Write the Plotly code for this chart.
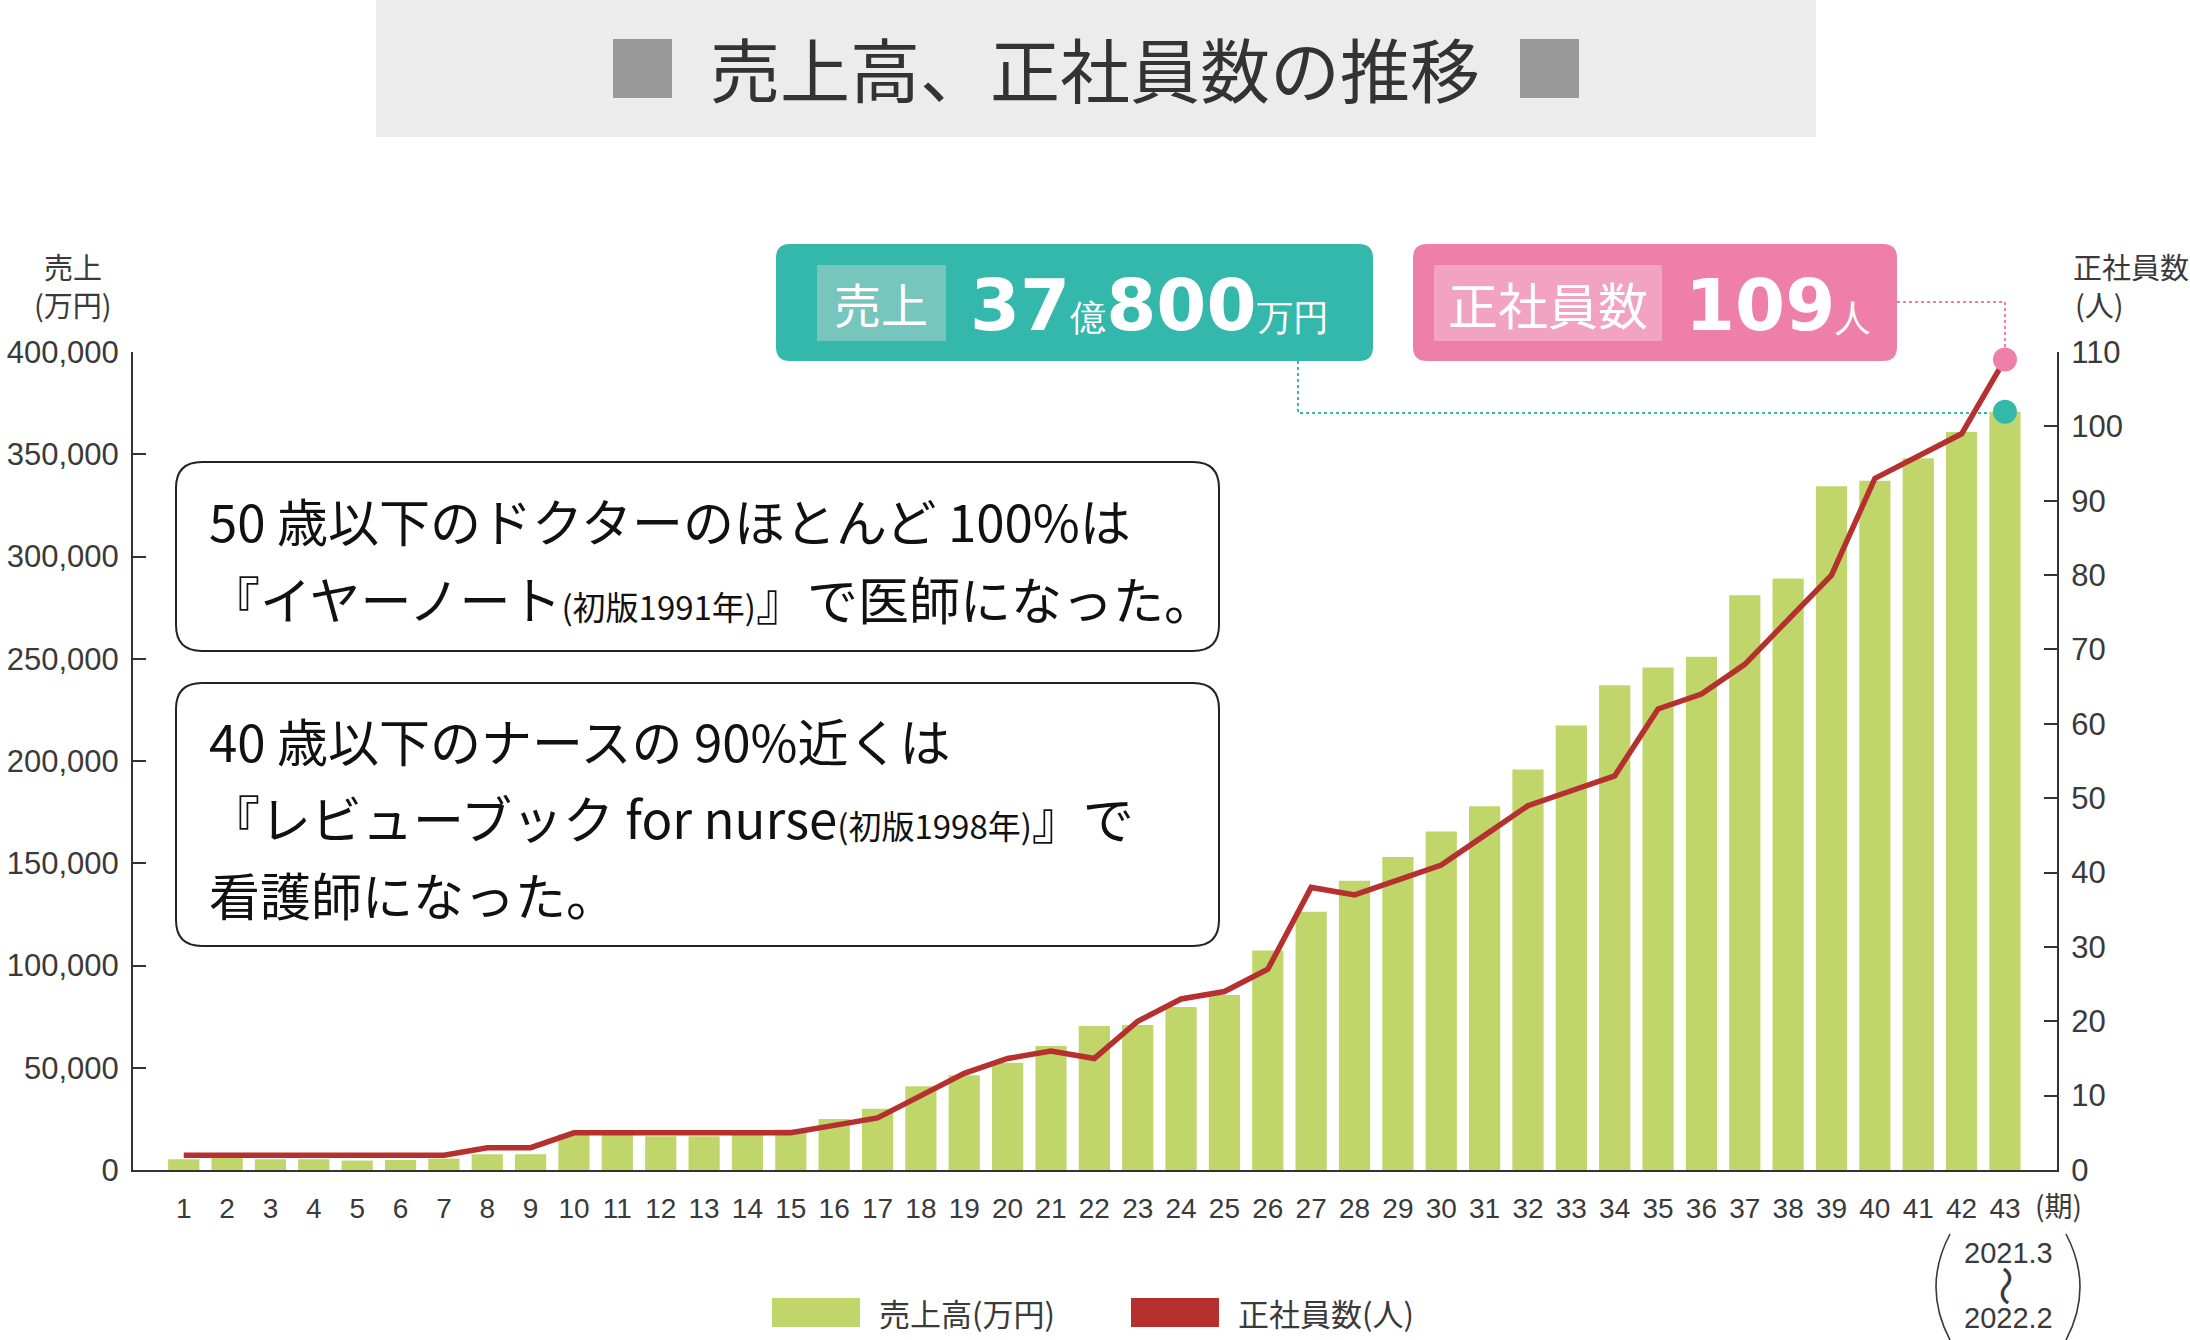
import plotly.graph_objects as go

# ---------------- data ----------------
periods = [str(i) for i in range(1, 44)]
sales = [5250, 6070, 5250, 5250, 4600, 4900, 5600, 7700, 7700, 17500,
         17200, 16500, 16500, 17200, 19800, 24900, 30000, 40900, 46300, 52500,
         60600, 70400, 70900, 79700, 85600, 107300, 126300, 141500, 153000, 165500,
         177900, 195800, 217400, 237000, 245700, 251000, 281000, 289300, 334300, 337000,
         348100, 360900, 370800]
staff = [2, 2, 2, 2, 2, 2, 2, 3, 3, 5,
         5, 5, 5, 5, 5, 6, 7, 10, 13, 15,
         16, 15, 20, 23, 24, 27, 38, 37, 39, 41,
         45, 49, 51, 53, 62, 64, 68, 74, 80, 93,
         96, 99, 109]
sales_ticks = [0, 50000, 100000, 150000, 200000, 250000, 300000, 350000, 400000]
sales_ticktext = ["0", "50,000", "100,000", "150,000", "200,000", "250,000", "300,000", "350,000", "400,000"]
staff_ticks = [0, 10, 20, 30, 40, 50, 60, 70, 80, 90, 100, 110]

title_text = "売上高、正社員数の推移"
legend_sales = "売上高(万円)"
legend_staff = "正社員数(人)"

# ---------------- styling ----------------
W, H = 2190, 1340
GREEN = "#c0d66b"
RED = "#b5302e"
TEAL = "#33b8ab"
TEAL_L = "#76c6bd"
PINK = "#ee7fa9"
PINK_L = "#f2a3c1"
AX = "#333333"
TXT = "#3a3a3a"
JP = "Noto Sans CJK JP"
NUM = "Liberation Sans"
BIG = "DejaVu Sans"


def X(p):
    return p / W


def Y(p):
    return 1 - p / H


def rrect(x0, y0, x1, y1, r):
    pts = [("M", x0 + r, y0), ("L", x1 - r, y0), ("Q", x1, y0, x1, y0 + r),
           ("L", x1, y1 - r), ("Q", x1, y1, x1 - r, y1), ("L", x0 + r, y1),
           ("Q", x0, y1, x0, y1 - r), ("L", x0, y0 + r), ("Q", x0, y0, x0 + r, y0)]
    s = ""
    for p in pts:
        if p[0] == "Q":
            s += f"Q {X(p[1])},{Y(p[2])} {X(p[3])},{Y(p[4])} "
        else:
            s += f"{p[0]} {X(p[1])},{Y(p[2])} "
    return s + "Z"


fig = go.Figure()

fig.add_trace(go.Bar(x=periods, y=sales, width=0.72, marker=dict(color=GREEN, line=dict(width=0)),
                     name=legend_sales, showlegend=False, hoverinfo="skip"))
fig.add_trace(go.Scatter(x=periods, y=staff, yaxis="y2", mode="lines",
                         line=dict(color=RED, width=5.5), name=legend_staff,
                         showlegend=False, hoverinfo="skip", cliponaxis=False))
fig.add_trace(go.Scatter(x=[periods[-1]], y=[staff[-1]], yaxis="y2", mode="markers",
                         marker=dict(color=PINK, size=24), showlegend=False, hoverinfo="skip",
                         cliponaxis=False))
fig.add_trace(go.Scatter(x=[periods[-1]], y=[sales[-1]], mode="markers",
                         marker=dict(color=TEAL, size=24), showlegend=False, hoverinfo="skip",
                         cliponaxis=False))

x0_px, x1_px = 133, 2057
y0_px, y1_px = 1170, 352

shapes = []
# title box
shapes.append(dict(type="rect", xref="paper", yref="paper", x0=X(376), x1=X(1816), y0=Y(137), y1=Y(0),
                   fillcolor="#ececec", line=dict(width=0), layer="below"))
shapes.append(dict(type="rect", xref="paper", yref="paper", x0=X(613), x1=X(672), y0=Y(98), y1=Y(39),
                   fillcolor="#999999", line=dict(width=0)))
shapes.append(dict(type="rect", xref="paper", yref="paper", x0=X(1520), x1=X(1579), y0=Y(98), y1=Y(39),
                   fillcolor="#999999", line=dict(width=0)))
# text boxes
shapes.append(dict(type="path", xref="paper", yref="paper", path=rrect(176, 462, 1219, 651, 26),
                   fillcolor="white", line=dict(color="#222222", width=2)))
shapes.append(dict(type="path", xref="paper", yref="paper", path=rrect(176, 683, 1219, 946, 26),
                   fillcolor="white", line=dict(color="#222222", width=2)))
# callouts
shapes.append(dict(type="path", xref="paper", yref="paper", path=rrect(776, 244, 1373, 361, 14),
                   fillcolor=TEAL, line=dict(width=0)))
shapes.append(dict(type="rect", xref="paper", yref="paper", x0=X(817), x1=X(946), y0=Y(341), y1=Y(265),
                   fillcolor=TEAL_L, line=dict(width=0)))
shapes.append(dict(type="path", xref="paper", yref="paper", path=rrect(1413, 244, 1897, 361, 14),
                   fillcolor=PINK, line=dict(width=0)))
shapes.append(dict(type="rect", xref="paper", yref="paper", x0=X(1434), x1=X(1662), y0=Y(341), y1=Y(265),
                   fillcolor=PINK_L, line=dict(width=0)))
# dotted leader lines
shapes.append(dict(type="path", xref="paper", yref="paper",
                   path=f"M {X(1298)},{Y(361)} L {X(1298)},{Y(413)} L {X(2005)},{Y(413)}",
                   line=dict(color=TEAL, width=2, dash="dot"), layer="below"))
shapes.append(dict(type="path", xref="paper", yref="paper",
                   path=f"M {X(1897)},{Y(302)} L {X(2005)},{Y(302)} L {X(2005)},{Y(355)}",
                   line=dict(color=PINK, width=2, dash="dot"), layer="below"))
# legend swatches
shapes.append(dict(type="rect", xref="paper", yref="paper", x0=X(772), x1=X(860), y0=Y(1327), y1=Y(1298),
                   fillcolor=GREEN, line=dict(width=0)))
shapes.append(dict(type="rect", xref="paper", yref="paper", x0=X(1131), x1=X(1219), y0=Y(1327), y1=Y(1298),
                   fillcolor=RED, line=dict(width=0)))
# big parentheses around period range
shapes.append(dict(type="path", xref="paper", yref="paper",
                   path=f"M {X(1950)},{Y(1234)} Q {X(1922)},{Y(1287)} {X(1950)},{Y(1340)}",
                   line=dict(color=TXT, width=1.6)))
shapes.append(dict(type="path", xref="paper", yref="paper",
                   path=f"M {X(2066)},{Y(1234)} Q {X(2094)},{Y(1287)} {X(2066)},{Y(1340)}",
                   line=dict(color=TXT, width=1.6)))

ann = []


def A(x, y, text, size, color=TXT, family=JP, xanchor="center", yanchor="middle", angle=0):
    ann.append(dict(x=X(x), y=Y(y), xref="paper", yref="paper", text=text, showarrow=False,
                    xanchor=xanchor, yanchor=yanchor, textangle=angle,
                    font=dict(size=size, color=color, family=family)))


A(1095, 68, title_text, 70, color="#333333")
# axis titles
A(73, 266, "売上", 29)
A(73, 304, "(万円)", 29)
A(2131, 266, "正社員数", 29)
A(2099, 304, "(人)", 29)
A(2058, 1205, "(期)", 28, family=JP)
# period range
A(2008, 1253, "2021.3", 29, family=NUM)
A(2008, 1286, "〜", 40, family=JP, angle=90)
A(2008, 1318, "2022.2", 29, family=NUM)
# legend texts
A(877, 1312, legend_sales, 31, xanchor="left")
A(1236, 1312, legend_staff, 31, xanchor="left")
# text box lines
BK = "#111111"
SM = "font-size:33px"
A(207, 520, "50 歳以下のドクターのほとんど 100%は", 51, color=BK, xanchor="left")
A(207, 598, f"『イヤーノート<span style='{SM}'>(初版1991年)</span>』で医師になった。", 51, color=BK, xanchor="left")
A(207, 740, "40 歳以下のナースの 90%近くは", 51, color=BK, xanchor="left")
A(207, 817, f"『レビューブック for nurse<span style='{SM}'>(初版1998年)</span>』で", 51, color=BK, xanchor="left")
A(207, 894, "看護師になった。", 51, color=BK, xanchor="left")
# callout texts
A(881, 303, "売上", 47, color="white")
A(968, 305, "<b>37</b><span style='font-size:36px'>億</span><b>800</b><span style='font-size:36px'>万円</span>",
  72, color="white", family=BIG, xanchor="left")
A(1548, 303, "正社員数", 50, color="white")
A(1683, 305, "<b>109</b><span style='font-size:36px'>人</span>", 72, color="white", family=BIG, xanchor="left")

fig.update_layout(
    template="none",
    width=W, height=H,
    margin=dict(l=0, r=0, t=0, b=0),
    paper_bgcolor="white", plot_bgcolor="white",
    showlegend=False,
    shapes=shapes,
    annotations=ann,
    xaxis=dict(domain=[X(x0_px), X(x1_px)], range=[-1.17, 43.2], type="category",
               showline=True, linecolor=AX, linewidth=2, ticks="", showgrid=False, zeroline=False,
               tickfont=dict(size=28, color=TXT, family=NUM), ticklabelstandoff=12, automargin=False,
               fixedrange=True),
    yaxis=dict(domain=[1 - y0_px / H, 1 - y1_px / H], range=[0, 400000], tickvals=sales_ticks,
               ticktext=sales_ticktext, ticks="inside", ticklen=13, tickwidth=2, tickcolor=AX,
               showline=True, linecolor=AX, linewidth=2, showgrid=False, zeroline=False,
               tickfont=dict(size=31, color=TXT, family=NUM), ticklabelstandoff=6, automargin=False,
               fixedrange=True),
    yaxis2=dict(overlaying="y", side="right", anchor="x", range=[0, 110], tickvals=staff_ticks,
                ticks="inside", ticklen=13, tickwidth=2, tickcolor=AX,
                showline=True, linecolor=AX, linewidth=2, showgrid=False, zeroline=False,
                tickfont=dict(size=31, color=TXT, family=NUM), ticklabelstandoff=6, automargin=False,
                fixedrange=True),
)

fig.write_html("out.html", config={"displayModeBar": False},
               post_script="document.body.style.margin='0';document.body.style.overflow='hidden';")
